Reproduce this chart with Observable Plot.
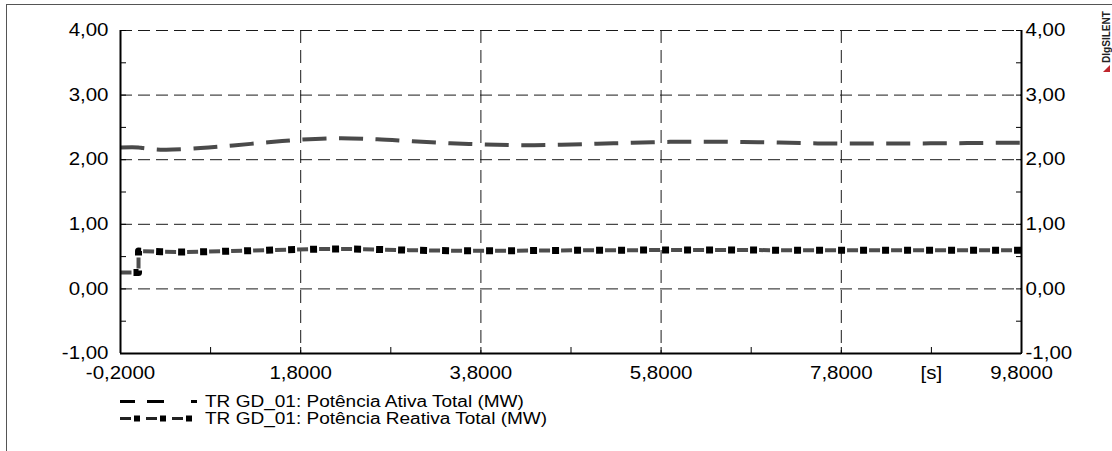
<!DOCTYPE html>
<html><head><meta charset="utf-8">
<script src="https://cdn.jsdelivr.net/npm/d3@7"></script>
<script src="https://cdn.jsdelivr.net/npm/@observablehq/plot@0.6"></script>
<style>
html,body{margin:0;padding:0;background:#fff;overflow:hidden;width:1112px;height:451px}
#wrap{position:relative;width:1112px;height:451px;font-family:"Liberation Sans",Arial,sans-serif}
#frame{position:absolute;left:6px;top:4px;width:1200px;height:600px;border-left:1.5px solid #555;border-top:1.5px solid #555;box-sizing:border-box}
#chart,#legend{position:relative}
#chart svg,#legend svg{display:block}
#logo{position:absolute;left:1098px;top:4px}
</style></head><body>
<div id="wrap"><div id="frame"></div><div id="chart"></div><div id="legend"></div>
<svg id="logo" width="14" height="70"><text transform="translate(11.5,59) rotate(-90)" font-family="Liberation Sans, Arial, sans-serif" font-weight="bold" font-size="10.5" textLength="52" lengthAdjust="spacingAndGlyphs" fill="#222">DIgSILENT</text><polygon points="5,68 12,68 12,61" fill="#c0262d"/></svg>
</div>
<script>
// ---- data ----
const timeActive = [-0.2, 0.0, 0.05, 0.28, 0.69, 1.05, 1.44, 1.8, 2.24, 2.65, 3.04, 3.46, 3.85, 4.26, 4.68, 5.09, 5.48, 5.9, 6.3, 6.71, 7.11, 7.54, 7.96, 8.37, 8.79, 9.2, 9.6, 9.8];
const activeMW   = [2.19, 2.19, 2.18, 2.155, 2.18, 2.22, 2.27, 2.31, 2.333, 2.315, 2.285, 2.255, 2.235, 2.225, 2.232, 2.248, 2.262, 2.276, 2.279, 2.274, 2.265, 2.252, 2.25, 2.252, 2.253, 2.257, 2.262, 2.264];
const timeReactive = [-0.2, 0.0, 0.0, 0.25, 0.5, 0.75, 1.0, 1.25, 1.5, 1.75, 2.0, 2.25, 2.5, 3.0, 3.5, 4.0, 4.5, 5.0, 5.5, 6.0, 6.5, 7.0, 7.5, 8.0, 8.5, 9.0, 9.5, 9.8];
const reactiveMW   = [0.254, 0.254, 0.585, 0.575, 0.572, 0.576, 0.584, 0.592, 0.602, 0.61, 0.616, 0.618, 0.614, 0.6, 0.59, 0.59, 0.594, 0.598, 0.6, 0.602, 0.602, 0.6, 0.598, 0.597, 0.598, 0.598, 0.598, 0.598];
const seriesNames = ["TR GD_01: Potência Ativa Total (MW)", "TR GD_01: Potência Reativa Total (MW)"];

const xTickValues = [-0.2, 1.8, 3.8, 5.8, 7.8, 8.8, 9.8];
const xTickLabels = ["-0,2000", "1,8000", "3,8000", "5,8000", "7,8000", "[s]", "9,8000"];
const xTickMarks  = [-0.2, 0.8, 1.8, 2.8, 3.8, 4.8, 5.8, 6.8, 7.8, 8.8, 9.8];
const xGrid       = [1.8, 3.8, 5.8, 7.8];
const xEdges      = [-0.2, 9.8];
const yTickValues = [-1, 0, 1, 2, 3, 4];
const yTickLabels = ["-1,00", "0,00", "1,00", "2,00", "3,00", "4,00"];
const yTickMarks  = [-1, -0.5, 0, 0.5, 1, 1.5, 2, 2.5, 3, 3.5, 4];
const yGrid       = [0, 1, 2, 3, 4];
const yEdges      = [-1, 4];

const active = timeActive.map((t, i) => ({t, v: activeMW[i]}));
const reactive = timeReactive.map((t, i) => ({t, v: reactiveMW[i]}));
const fmtY = d => yTickLabels[yTickValues.indexOf(d)];
const fmtX = d => xTickLabels[xTickValues.indexOf(d)];
const blank = () => "";

const chart = Plot.plot({
  width: 1112, height: 385,
  marginLeft: 120, marginRight: 91, marginTop: 30, marginBottom: 32,
  x: {domain: xEdges},
  y: {domain: yEdges},
  style: {fontFamily: "'Liberation Sans', Arial, sans-serif", fontSize: "17.5px", color: "#000", background: "transparent", overflow: "visible"},
  marks: [
    Plot.ruleY(yGrid, {stroke: "#1a1a1a", strokeWidth: 1, strokeDasharray: "12,6"}),
    Plot.ruleX(xGrid, {stroke: "#1a1a1a", strokeWidth: 1, strokeDasharray: "13,7"}),
    Plot.line(reactive, {x: "t", y: "v", stroke: "#4d4d4d", strokeWidth: 4, strokeDasharray: "11,11", strokeLinecap: "butt", strokeLinejoin: "miter"}),
    Plot.line(reactive, {x: "t", y: "v", stroke: "#000", strokeWidth: 7, strokeDasharray: "0,13,7,2", strokeLinecap: "butt"}),
    Plot.line(active, {x: "t", y: "v", curve: "catmull-rom", stroke: "#4a4a4a", strokeWidth: 4, strokeDasharray: "24,12.5", strokeLinecap: "butt"}),
    Plot.ruleX(xEdges, {stroke: "#000", strokeWidth: 2}),
    Plot.ruleY([yEdges[0]], {stroke: "#000", strokeWidth: 2}),
    Plot.axisY(yTickMarks, {anchor: "left", tickSize: 6, dx: 6, tickFormat: blank, label: null}),
    Plot.axisY(yTickMarks, {anchor: "right", tickSize: 6, dx: -6, tickFormat: blank, label: null}),
    Plot.axisX(xTickMarks, {anchor: "bottom", tickSize: 6, dy: -6, tickFormat: blank, label: null}),
    Plot.axisY(yTickValues, {anchor: "left", tickSize: 0, tickPadding: 12, tickFormat: fmtY, label: null}),
    Plot.axisY(yTickValues, {anchor: "right", tickSize: 0, tickPadding: 4, tickFormat: fmtY, label: null}),
    Plot.axisX(xTickValues, {anchor: "bottom", tickSize: 0, tickPadding: 13, tickFormat: fmtX, label: null})
  ]
});
document.getElementById("chart").appendChild(chart);

// horizontally widen text glyphs like the reference rendering
function widen(root, s) {
  root.querySelectorAll("text").forEach(t => {
    const tr = t.getAttribute("transform");
    if (tr) t.setAttribute("transform", tr + ` scale(${s},1)`);
    else {
      const x = +(t.getAttribute("x") || 0);
      t.setAttribute("transform", `translate(${x},0) scale(${s},1) translate(${-x},0)`);
    }
  });
}
widen(chart, 1.17);

// legend
const lg = d3.select("#legend").append("svg").attr("width", 1112).attr("height", 66);
const rows = [16.5, 33.5];
// active sample
lg.append("line").attr("x1", 120).attr("x2", 197).attr("y1", rows[0]).attr("y2", rows[0])
  .attr("stroke", "#000").attr("stroke-width", 3).attr("stroke-dasharray", "15,12,17,27,6");
// reactive sample
lg.append("line").attr("x1", 120).attr("x2", 198).attr("y1", rows[1]).attr("y2", rows[1])
  .attr("stroke", "#222").attr("stroke-width", 3).attr("stroke-dasharray", "11,15");
lg.append("line").attr("x1", 120).attr("x2", 198).attr("y1", rows[1]).attr("y2", rows[1])
  .attr("stroke", "#000").attr("stroke-width", 6).attr("stroke-dasharray", "0,14,6,6");
lg.selectAll("text.lab").data(seriesNames).join("text")
  .attr("class", "lab")
  .attr("transform", (d, i) => `translate(205,${rows[i]}) scale(1.22,1)`)
  .attr("dy", "0.36em")
  .attr("font-family", "'Liberation Sans', Arial, sans-serif")
  .attr("font-size", 15.6).attr("fill", "#000")
  .text(d => d);
</script>
</body></html>
